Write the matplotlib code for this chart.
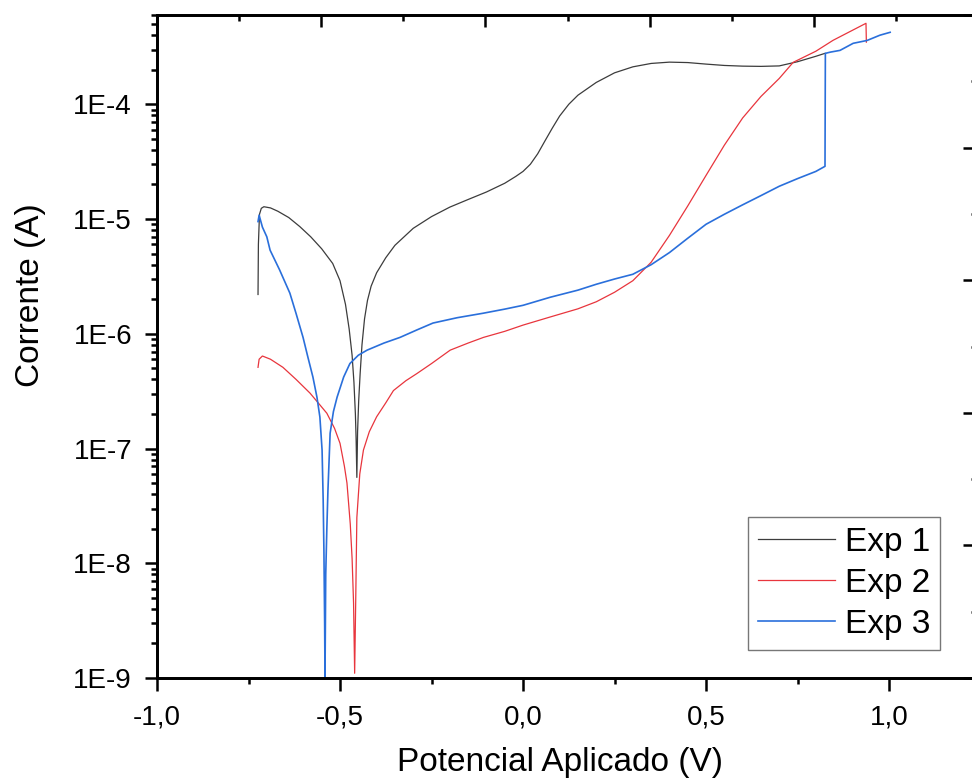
import numpy as np
import matplotlib
matplotlib.use("Agg")
import matplotlib.pyplot as plt
from matplotlib.ticker import LogLocator, FuncFormatter, NullFormatter, MultipleLocator

plt.rcParams['font.family'] = ['Liberation Sans', 'DejaVu Sans']

# Exp 1 (preto)
exp1_v = [-0.724, -0.723, -0.720, -0.715, -0.708, -0.690, -0.670, -0.640, -0.610, -0.580,
          -0.550, -0.520, -0.500, -0.485, -0.475, -0.467, -0.462, -0.458, -0.456, -0.454,
          -0.452, -0.449, -0.445, -0.440, -0.433, -0.425, -0.415, -0.400, -0.375, -0.350,
          -0.300, -0.250, -0.200, -0.150, -0.100, -0.050, -0.020, 0.000, 0.020, 0.040,
          0.060, 0.080, 0.100, 0.125, 0.150, 0.200, 0.250, 0.300, 0.350, 0.400,
          0.450, 0.500, 0.550, 0.600, 0.650, 0.700, 0.750, 0.800, 0.825]
exp1_i = [2.2e-6, 6.0e-6, 1.1e-5, 1.24e-5, 1.28e-5, 1.25e-5, 1.17e-5, 1.03e-5, 8.6e-6, 7.0e-6,
          5.5e-6, 4.1e-6, 2.9e-6, 1.8e-6, 1.1e-6, 6.5e-7, 3.8e-7, 2.0e-7, 1.2e-7, 5.6e-8,
          1.4e-7, 2.6e-7, 4.5e-7, 8.0e-7, 1.35e-6, 1.95e-6, 2.6e-6, 3.4e-6, 4.6e-6, 5.9e-6,
          8.3e-6, 1.05e-5, 1.27e-5, 1.48e-5, 1.72e-5, 2.05e-5, 2.35e-5, 2.6e-5, 3.0e-5, 3.7e-5,
          4.8e-5, 6.2e-5, 7.9e-5, 1.0e-4, 1.2e-4, 1.55e-4, 1.88e-4, 2.12e-4, 2.27e-4, 2.33e-4,
          2.31e-4, 2.24e-4, 2.18e-4, 2.15e-4, 2.14e-4, 2.16e-4, 2.35e-4, 2.62e-4, 2.78e-4]

# Exp 2 (vermelho)
exp2_v = [-0.724, -0.721, -0.712, -0.690, -0.656, -0.620, -0.582, -0.555, -0.536, -0.515,
          -0.500, -0.488, -0.481, -0.472, -0.467, -0.463, -0.460, -0.457, -0.454, -0.446,
          -0.436, -0.420, -0.400, -0.375, -0.354, -0.320, -0.290, -0.250, -0.199, -0.150,
          -0.108, -0.050, 0.000, 0.074, 0.150, 0.200, 0.250, 0.300, 0.350, 0.400,
          0.450, 0.500, 0.550, 0.600, 0.650, 0.700, 0.738, 0.800, 0.847, 0.937, 0.938]
exp2_i = [5.1e-7, 6.0e-7, 6.4e-7, 6.0e-7, 5.1e-7, 4.0e-7, 3.04e-7, 2.4e-7, 2.03e-7, 1.5e-7,
          1.11e-7, 7.0e-8, 5.0e-8, 2.2e-8, 1.1e-8, 4.5e-9, 1.1e-9, 5.0e-9, 2.5e-8, 6.0e-8,
          9.7e-8, 1.4e-7, 1.89e-7, 2.5e-7, 3.2e-7, 3.9e-7, 4.5e-7, 5.5e-7, 7.2e-7, 8.3e-7,
          9.3e-7, 1.05e-6, 1.19e-6, 1.4e-6, 1.65e-6, 1.9e-6, 2.3e-6, 2.9e-6, 4.2e-6, 7.2e-6,
          1.3e-5, 2.4e-5, 4.4e-5, 7.6e-5, 1.17e-4, 1.68e-4, 2.32e-4, 2.9e-4, 3.61e-4, 5.08e-4, 3.48e-4]

# Exp 3 (azul)
exp3_v = [-0.724, -0.721, -0.712, -0.700, -0.691, -0.665, -0.637, -0.620, -0.601, -0.588,
          -0.574, -0.563, -0.555, -0.549, -0.546, -0.544, -0.542, -0.541, -0.539, -0.536,
          -0.533, -0.527, -0.518, -0.508, -0.490, -0.473, -0.450, -0.426, -0.380, -0.336,
          -0.290, -0.246, -0.180, -0.109, -0.050, 0.000, 0.074, 0.150, 0.200, 0.250,
          0.300, 0.350, 0.400, 0.450, 0.500, 0.550, 0.600, 0.650, 0.700, 0.750,
          0.800, 0.825, 0.826, 0.840, 0.866, 0.902, 0.940, 0.975, 1.003]
exp3_i = [9.5e-6, 1.08e-5, 8.5e-6, 7.0e-6, 5.35e-6, 3.6e-6, 2.26e-6, 1.5e-6, 9.3e-7, 6.3e-7,
          4.19e-7, 2.8e-7, 1.88e-7, 9.7e-8, 3.55e-8, 1.3e-8, 3.0e-9, 1.0e-9, 8.0e-9, 2.0e-8,
          4.3e-8, 1.36e-7, 2.1e-7, 2.8e-7, 4.2e-7, 5.5e-7, 6.5e-7, 7.2e-7, 8.3e-7, 9.3e-7,
          1.08e-6, 1.24e-6, 1.38e-6, 1.51e-6, 1.64e-6, 1.77e-6, 2.08e-6, 2.4e-6, 2.7e-6, 3.0e-6,
          3.3e-6, 4.0e-6, 5.1e-6, 6.8e-6, 9.0e-6, 1.1e-5, 1.33e-5, 1.6e-5, 1.93e-5, 2.25e-5,
          2.6e-5, 2.88e-5, 2.78e-4, 2.85e-4, 2.95e-4, 3.4e-4, 3.6e-4, 4.0e-4, 4.24e-4]

labels = ['Exp 1', 'Exp 2', 'Exp 3']
colors = ['#3c3c3c', '#e8353d', '#2a6fdb']
widths = [0.9, 0.9, 1.2]
xticks = [-1.0, -0.5, 0.0, 0.5, 1.0]
xtick_labels = ['-1,0', '-0,5', '0,0', '0,5', '1,0']

fig = plt.figure(figsize=(9.72, 7.84), dpi=100)
W, H = 972.0, 784.0
ax = fig.add_axes([157 / W, (H - 678) / H, 821 / W, 663 / H])

for v, i, lab, c, lw in zip([exp1_v, exp2_v, exp3_v], [exp1_i, exp2_i, exp3_i], labels, colors, widths):
    ax.plot(v, i, color=c, lw=lw, label=lab)

ax.set_yscale('log')
ax.set_ylim(1e-9, 6e-4)
ax.set_xlim(-1.0, 1.243)

ax.set_xticks(xticks)
ax.set_xticklabels(xtick_labels)
ax.xaxis.set_minor_locator(MultipleLocator(0.25))
ax.yaxis.set_major_locator(LogLocator(base=10, numticks=20))
ax.yaxis.set_minor_locator(LogLocator(base=10, subs=np.arange(2, 10), numticks=20))
ax.yaxis.set_major_formatter(FuncFormatter(lambda v, p: "1E%d" % int(round(np.log10(v)))))
ax.yaxis.set_minor_formatter(NullFormatter())

ax.tick_params(axis='both', which='major', direction='out', length=9, width=1.8, labelsize=20)
ax.tick_params(axis='both', which='minor', direction='out', length=4.5, width=1.8)
ax.tick_params(axis='x', which='major', pad=10)
ax.tick_params(axis='y', which='major', pad=9)
ax.tick_params(top=False, right=False, which='both')
for s in ax.spines.values():
    s.set_linewidth(1.8)

# eixos ligados (topo e direita) so com marcas
axt = ax.twiny()
axt.set_xlim(0, 5)
axt.xaxis.set_major_locator(MultipleLocator(1))
axt.xaxis.set_minor_locator(MultipleLocator(0.5))
axt.tick_params(axis='x', which='major', direction='in', length=8.5, width=1.8, labeltop=False)
axt.tick_params(axis='x', which='minor', direction='in', length=4, width=1.8)
axr = ax.twinx()
axr.set_ylim(0, 5)
axr.yaxis.set_major_locator(MultipleLocator(1))
axr.yaxis.set_minor_locator(MultipleLocator(0.5))
axr.tick_params(axis='y', which='major', direction='in', length=11, width=1.8, labelright=False)
axr.tick_params(axis='y', which='minor', direction='in', length=5, width=1.8)
for a in (axt, axr):
    for s in a.spines.values():
        s.set_linewidth(1.8)

ax.set_xlabel('Potencial Aplicado (V)', fontsize=24)
ax.xaxis.set_label_coords((560 - 157) / 821, -0.104)
ax.set_ylabel('Corrente (A)', fontsize=24, va='center')
ax.yaxis.set_label_coords(-(157 - 31) / 821, (678 - 295) / 663)

leg = ax.legend(loc='lower right', bbox_to_anchor=((940 - 157) / 821, (678 - 650) / 663),
                borderaxespad=0, fontsize=24, frameon=True, fancybox=False,
                handlelength=2.3, handletextpad=0.3, labelspacing=0.3, borderpad=0.3)
leg.get_frame().set_edgecolor('#555555')
leg.get_frame().set_linewidth(1.0)

fig.savefig('out.png', dpi=100)
